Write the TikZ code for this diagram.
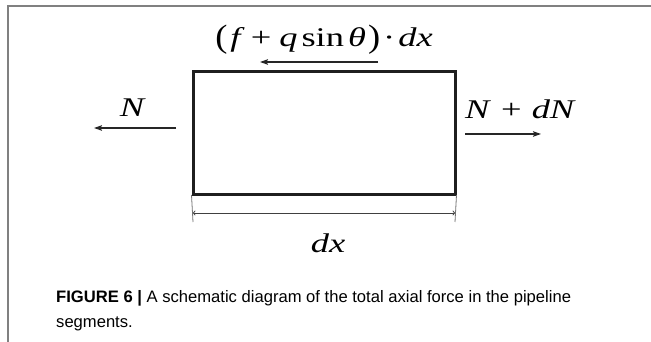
\documentclass[tikz,border=0pt]{standalone}
\usepackage{fontspec}
\usepackage{graphicx}
\usetikzlibrary{arrows.meta}
\setmainfont{Liberation Serif}
\newfontfamily\dfont[FakeStretch=1.35]{Liberation Serif}
\newfontfamily\capfont{Liberation Sans}
\tikzset{
  frame/.style={draw=black!50, line width=1.2pt},
  elem/.style={draw=black!88, line width=3pt, minimum width=262pt, minimum height=123pt, inner sep=0pt},
  force/.style={draw=black!85, line width=1.3pt, -{Stealth[length=8pt,width=5.5pt,inset=1.5pt]}},
  extline/.style={draw=black!55, line width=0.8pt},
  dimline/.style={draw=black!75, line width=0.8pt, {To[length=2.5pt,width=5pt]}-{To[length=2.5pt,width=5pt]}},
  lbl/.style={inner sep=0pt, anchor=base, font=\dfont\fontsize{27}{31}\selectfont},
  captxt/.style={inner sep=0pt, anchor=base west, font=\capfont\fontsize{16.6}{25}\selectfont}
}
\begin{document}
\begin{tikzpicture}[x=1pt,y=-1pt]
\useasboundingbox (0,0) rectangle (651,342);
\fill[white] (0,0) rectangle (651,342);
% outer frame
\coordinate (fbl) at (8,342);
\coordinate (ftl) at (8,6);
\coordinate (ftr) at (651,6);
\draw[frame] (fbl) -- (ftl) -- (ftr);
% element
\node[elem] (box) at (324,133.5) {};
% left force
\coordinate (la1) at (176,128);
\coordinate (la2) at (94,128);
\draw[force] (la1) -- (la2);
\node[lbl] (N) at (133,117) {\textit{N}};
% right force
\coordinate (ra1) at (465,134);
\coordinate (ra2) at (541,134);
\draw[force] (ra1) -- (ra2);
\node[lbl, anchor=base west] (NdN) at (465,119) {\textit{N}\kern10pt+\kern10pt\textit{dN}};
% friction force
\node[lbl] (fric) at (324,47) {\raisebox{-1pt}{\scalebox{1}[1.2]{(}}\kern3pt\textit{f}\kern6pt+\kern8pt\textit{q}\kern4pt sin\kern4pt\textit{θ}\kern2pt\raisebox{-1pt}{\scalebox{1}[1.2]{)}}\kern3pt·\kern3pt\textit{dx}};
\coordinate (ta1) at (378,62);
\coordinate (ta2) at (260,62);
\draw[force] (ta1) -- (ta2);
% dimension
\coordinate (e1a) at (box.south west);
\coordinate (e2a) at (box.south east);
\coordinate (e1b) at (193,222);
\coordinate (e2b) at (455,222);
\draw[extline] ([yshift=1.5pt]e1a) -- (e1b);
\draw[extline] ([yshift=1.5pt]e2a) -- (e2b);
\coordinate (d1) at (193,213);
\coordinate (d2) at (455,213);
\draw[dimline] (d1) -- (d2);
\node[lbl] (dx) at (328,252) {\textit{dx}};
% caption
\node[captxt] (cap1) at (56,302) {\textbf{FIGURE 6} \textbf{|} A schematic diagram of the total axial force in the pipeline};
\node[captxt] (cap2) at (56,327) {segments.};
\end{tikzpicture}
\end{document}
